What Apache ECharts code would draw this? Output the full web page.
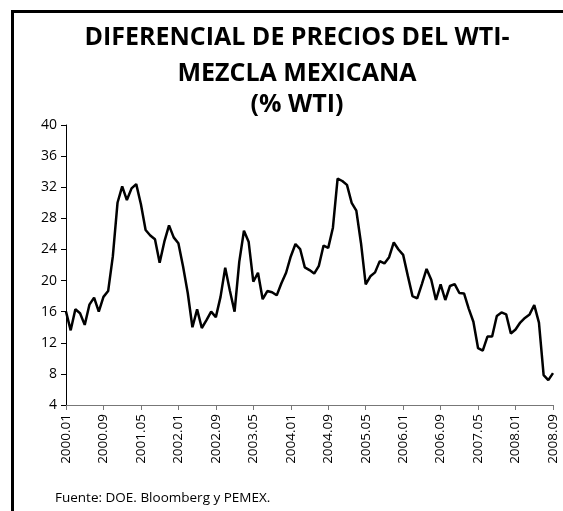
<!DOCTYPE html>
<html>
<head>
<meta charset="utf-8">
<script src="https://cdn.jsdelivr.net/npm/echarts@6/dist/echarts.min.js"></script>
<style>
  html, body { margin: 0; padding: 0; background: #fff; }
  #wrap { position: relative; width: 563px; height: 511px; overflow: hidden; }
  #frame {
    position: absolute; left: 11px; top: 10px; width: 600px; height: 560px;
    border-left: 3px solid #000; border-top: 3px solid #000;
  }
  #main { position: absolute; left: 0; top: 0; width: 563px; height: 511px; }
</style>
</head>
<body>
<div id="wrap">
  <div id="frame"></div>
  <div id="main"></div>
</div>
<script>
// diferencial WTI - mezcla mexicana, % del WTI, mensual 2000.01 - 2008.09
const startYear = 2000
const monthCount = 105
const yTicks = { min: 4, max: 40, step: 4 }
const diferencial = [
  16.0, 13.6, 16.3, 15.8, 14.3, 16.9, 17.8, 16.0, 17.9, 18.65, 23.1, 30.0,
  32.1, 30.35, 31.85, 32.4, 29.8, 26.5, 25.8, 25.3, 22.3, 25.0, 27.1, 25.55,
  24.8, 21.8, 18.4, 14.0, 16.3, 13.9, 14.9, 16.0, 15.3, 17.9, 21.65, 18.7,
  16.0, 22.4, 26.4, 25.0, 19.85, 21.0, 17.6, 18.65, 18.5, 18.1, 19.65, 21.0,
  23.1, 24.7, 24.05, 21.7, 21.35, 20.9, 21.9, 24.5, 24.2, 26.8, 33.1, 32.8,
  32.3, 30.0, 29.0, 24.8, 19.5, 20.55, 21.05, 22.5, 22.2, 23.0, 24.9, 24.0,
  23.3, 20.6, 18.0, 17.7, 19.55, 21.5, 20.1, 17.5, 19.5, 17.5, 19.3, 19.55,
  18.4, 18.35, 16.4, 14.7, 11.3, 11.0, 12.8, 12.8, 15.45, 15.9, 15.65, 13.2,
  13.7, 14.6, 15.2, 15.65, 16.85, 14.6, 7.85, 7.2, 8.1
]
const titleLines = ['DIFERENCIAL DE PRECIOS DEL WTI-', 'MEZCLA MEXICANA', '(% WTI)']
const fuente = 'Fuente: DOE. Bloomberg y PEMEX.'

const meses = []
for (let i = 0; i < monthCount; i++) {
  const y = startYear + Math.floor(i / 12)
  const m = (i % 12) + 1
  meses.push(y + '.' + (m < 10 ? '0' + m : m))
}

const font = '"Open Sans", "Liberation Sans", sans-serif'
const chart = echarts.init(document.getElementById('main'), null, { renderer: 'canvas' })

const option = {
  animation: false,
  backgroundColor: 'transparent',
  textStyle: { fontFamily: font, color: '#000' },
  grid: { left: 66, right: 10, top: 125, bottom: 106, containLabel: false },
  graphic: [
    ...titleLines.map((t, i) => ({
      type: 'text',
      x: 297,
      y: [38, 74, 105][i],
      style: {
        text: t,
        fill: '#000',
        font: 'bold 25px ' + font,
        textAlign: 'center',
        textVerticalAlign: 'middle'
      }
    })),
    {
      type: 'text',
      x: 55,
      y: 498,
      style: {
        text: fuente,
        fill: '#000',
        font: '13.5px ' + font,
        textAlign: 'left',
        textVerticalAlign: 'middle'
      }
    }
  ],
  xAxis: {
    type: 'category',
    data: meses,
    boundaryGap: false,
    axisLine: { lineStyle: { color: '#777', width: 1 } },
    axisTick: { interval: 7, length: 5, lineStyle: { color: '#777' } },
    axisLabel: {
      interval: 7,
      rotate: 90,
      margin: 9,
      fontSize: 13.5,
      color: '#000',
      fontFamily: font
    },
    splitLine: { show: false }
  },
  yAxis: {
    type: 'value',
    min: yTicks.min,
    max: yTicks.max,
    interval: yTicks.step,
    axisLine: { show: true, lineStyle: { color: '#000', width: 1 } },
    axisTick: { show: true, length: 5, lineStyle: { color: '#000' } },
    axisLabel: { margin: 9, fontSize: 14, color: '#000', fontFamily: font },
    splitLine: { show: false }
  },
  series: [
    {
      type: 'line',
      data: diferencial,
      symbol: 'none',
      lineStyle: { color: '#000', width: 2.5 },
      z: 3
    }
  ]
}

chart.setOption(option)
</script>
</body>
</html>
